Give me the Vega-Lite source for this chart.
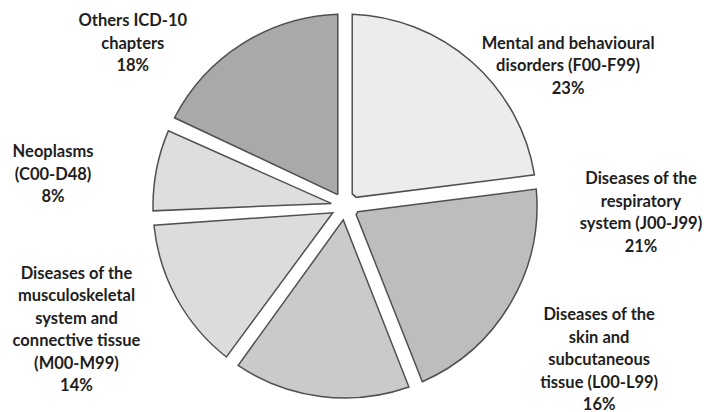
{
  "$schema": "https://vega.github.io/schema/vega-lite/v6.json",
  "width": 690,
  "height": 412,
  "autosize": "none",
  "padding": {"left": 0, "right": 14, "top": 0, "bottom": 0},
  "background": "white",
  "config": {"view": {"stroke": null}, "text": {"font": "Lato", "fontWeight": "bold", "fontSize": 16.5, "lineHeight": 22.5, "color": "#1e1e1e", "align": "center", "baseline": "middle"}},
  "data": {"values": [
    {"name": "Mental", "order": 1, "value": 23, "label": ["Mental and behavioural", "disorders (F00-F99)", "23%"]},
    {"name": "Respiratory", "order": 2, "value": 21, "label": ["Diseases of the", "respiratory", "system (J00-J99)", "21%"]},
    {"name": "Skin", "order": 3, "value": 16, "label": ["Diseases of the", "skin and", "subcutaneous", "tissue (L00-L99)", "16%"]},
    {"name": "Musculoskeletal", "order": 4, "value": 14, "label": ["Diseases of the", "musculoskeletal", "system and", "connective tissue", "(M00-M99)", "14%"]},
    {"name": "Neoplasms", "order": 5, "value": 8, "label": ["Neoplasms", "(C00-D48)", "8%"]},
    {"name": "Others", "order": 6, "value": 18, "label": ["Others ICD-10", "chapters", "18%"]}
  ]},
  "encoding": {
    "theta": {"field": "value", "type": "quantitative", "stack": true},
    "order": {"field": "order", "type": "quantitative"}
  },
  "layer": [
    {
      "mark": {"type": "arc", "outerRadius": 192, "innerRadius": 14, "padAngle": 0.075, "stroke": "#505050", "strokeWidth": 1.5},
      "encoding": {
        "color": {"field": "name", "type": "nominal", "legend": null,
          "scale": {"domain": ["Mental", "Respiratory", "Skin", "Musculoskeletal", "Neoplasms", "Others"],
                    "range": ["#ececec", "#bdbdbd", "#cacaca", "#dcdcdc", "#dedede", "#a9a9a9"]}}
      }
    },
    {"mark": {"type": "text", "radius": 230, "dx": 71, "dy": 10.5},
     "encoding": {"text": {"condition": {"test": "datum.name === 'Mental'", "field": "label"}, "value": ""}}},
    {"mark": {"type": "text", "radius": 230, "dx": 98, "dy": -144},
     "encoding": {"text": {"condition": {"test": "datum.name === 'Respiratory'", "field": "label"}, "value": ""}}},
    {"mark": {"type": "text", "radius": 230, "dx": 283, "dy": -119},
     "encoding": {"text": {"condition": {"test": "datum.name === 'Skin'", "field": "label"}, "value": ""}}},
    {"mark": {"type": "text", "radius": 230, "dx": -67, "dy": -43},
     "encoding": {"text": {"condition": {"test": "datum.name === 'Musculoskeletal'", "field": "label"}, "value": ""}}},
    {"mark": {"type": "text", "radius": 230, "dx": -66, "dy": -10.5},
     "encoding": {"text": {"condition": {"test": "datum.name === 'Neoplasms'", "field": "label"}, "value": ""}}},
    {"mark": {"type": "text", "radius": 230, "dx": -89, "dy": 9.5},
     "encoding": {"text": {"condition": {"test": "datum.name === 'Others'", "field": "label"}, "value": ""}}}
  ]
}
